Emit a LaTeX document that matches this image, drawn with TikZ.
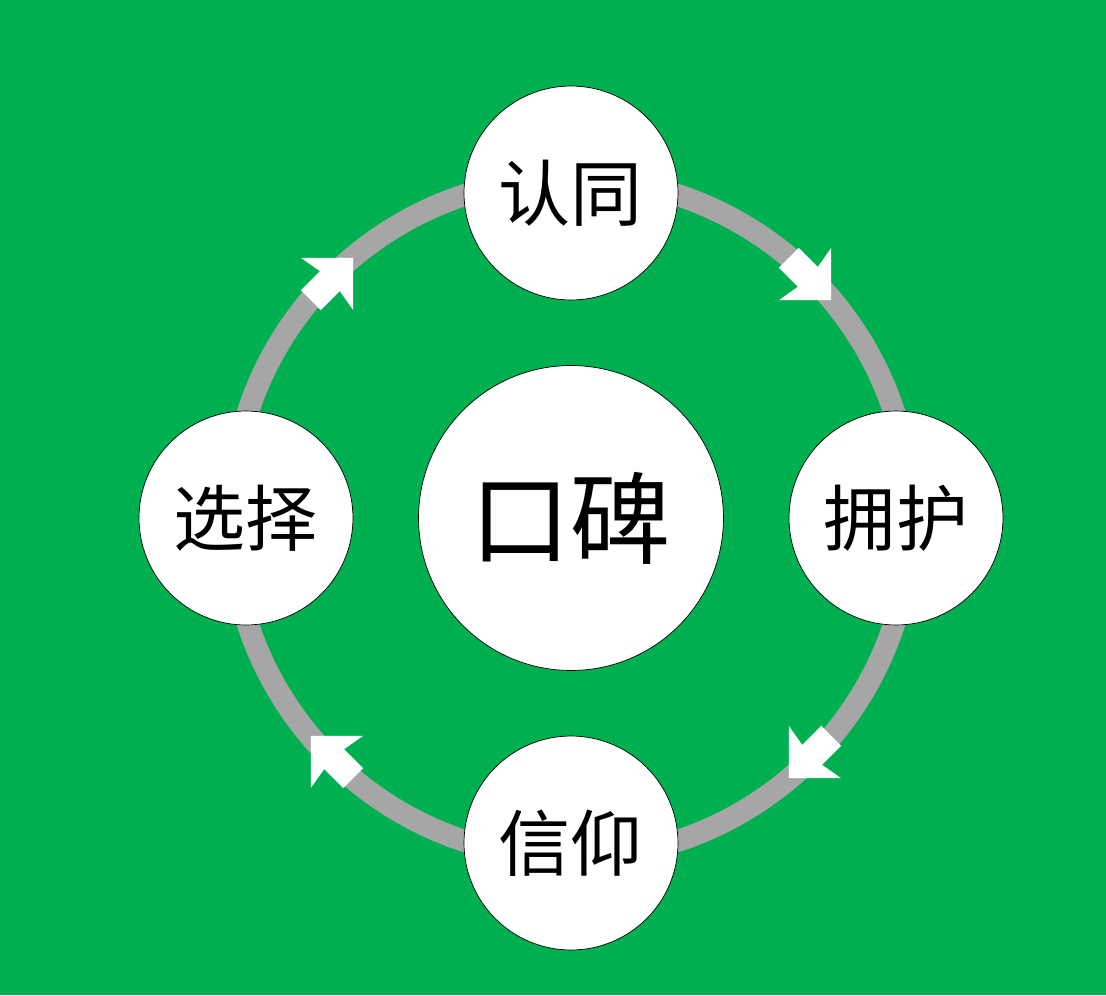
\documentclass[tikz,border=0pt]{standalone}
\usepackage{fontspec}
\newfontfamily\cjk{Noto Sans CJK SC}
\definecolor{bggreen}{RGB}{0,176,80}
\definecolor{ringgray}{RGB}{166,166,166}
\tikzset{
  stage/.style={circle, draw=black, fill=white, minimum size=4.28cm, inner sep=0pt, font=\cjk\fontsize{41}{44}\selectfont},
  core/.style={circle, draw=black, fill=white, minimum size=6.1cm, inner sep=0pt, font=\cjk\fontsize{57}{60}\selectfont}
}
\begin{document}
\begin{tikzpicture}[x=0.02cm,y=0.02cm]

% background
\fill[bggreen] (-571,-477) rectangle (535,518);
\useasboundingbox (-571,-477) rectangle (535,518);

% ring
\draw[ringgray, line width=0.44cm] (0,0) circle (340);

% arrow heads on the ring
\foreach \a in {45,-45,-135,135}{
  \fill[white, shift={(\a:338)}, rotate=\a-90]
    (30,0) -- (-7,37) -- (-3,14) -- (-30,14) -- (-30,-14) -- (-3,-14) -- (-7,-37) -- cycle;
}

% circles
\node[core] (wom) at (0,0) {口碑};
\node[stage] (agree) at (90:325) {认同};
\node[stage] (guard) at (0:325) {拥护};
\node[stage] (faith) at (-90:325) {信仰};
\node[stage] (pick) at (180:325) {选择};

\end{tikzpicture}
\end{document}
